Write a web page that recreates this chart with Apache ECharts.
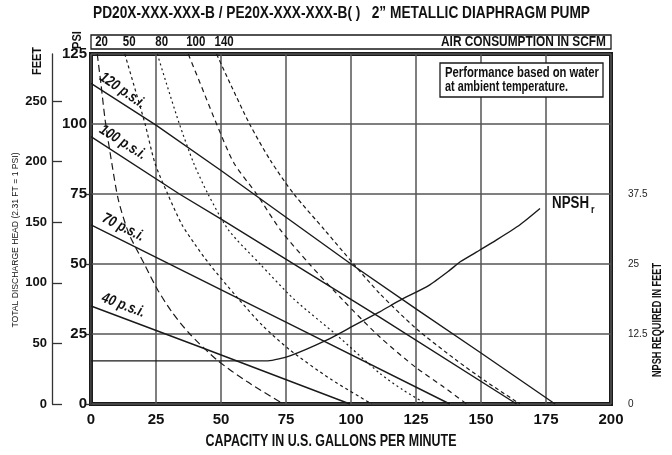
<!DOCTYPE html>
<html>
<head>
<meta charset="UTF-8">
<title>2" Metallic Diaphragm Pump</title>
<script src="https://cdn.jsdelivr.net/npm/echarts@6/dist/echarts.min.js"></script>
<style>
  body{margin:0;background:#fff}
</style>
</head>
<body>
<div id="main" style="width:672px;height:455px"></div>
<script>
var FONT = '"Liberation Sans", Arial, sans-serif';
var INK = '#1a1a1a';

// discharge head (psi) vs capacity (gpm), one line per air inlet pressure
var pressureNames = ['120 p.s.i.', '100 p.s.i.', '70 p.s.i.', '40 p.s.i.'];
var head120 = [[0,114.5],[25,99.6],[50,83.4],[75,66.7],[100,50],[125,34],[150,18.2],[178.5,0]];
var head100 = [[0,95.5],[34,75],[51,65.5],[111,31],[163.7,0]];
var head70  = [[0,64],[76.5,28.5],[138,0]];
var head40  = [[0,35],[43,20],[99.6,0]];

// air consumption curves (scfm)
var scfmNames = ['20', '50', '80', '100', '140'];
var air20  = [[2.4,125],[3.8,114.5],[5.5,101],[8,86],[10.5,73],[14.5,61],[20.5,50],[25.5,41],[31,33],[38,25],[48.5,15.7],[60,8],[74,0]];
var air50  = [[13,125],[16.3,114.5],[20.8,100],[24.6,86],[29.5,75],[35,64],[40,57],[45.5,50],[56,38.3],[66,28],[76.5,19.3],[92,9],[108,0]];
var air80  = [[25.5,125],[29,114.5],[34,100],[39.5,86],[45,75],[53,62],[65,50],[78,37.5],[94.5,24.6],[111,11],[120,5],[129,0]];
var air100 = [[37.4,125],[42,114.5],[48.3,100],[55,86],[63.7,75],[73,62],[84,50],[97,37],[111,24],[125,13],[135,6.5],[144.5,0]];
var air140 = [[48.3,125],[53.5,114.5],[61,100],[69,87],[78,75],[90,62],[101,50],[111,39.5],[125,27],[140,16],[152,8],[165,0]];

// NPSH required (feet) vs capacity (gpm)
var npshReq = [[0,7.7],[68,7.7],[76.5,8.6],[90.6,11.4],[100.3,13.8],[111.2,16.5],[118.8,18.5],[130,21.2],[138,23.9],[142,25.4],[149.6,27.5],[156,29.3],[165,32],[172.7,34.9]];

var heads = [head120, head100, head70, head40];
var airs = [air20, air50, air80, air100, air140];
var dashes = [[7,4], [3,3], [2,3], [5,4], [4,3]];

var series = [];
heads.forEach(function (d, i) {
  series.push({
    name: pressureNames[i], type: 'line', data: d, symbol: 'none',
    xAxisIndex: 0, yAxisIndex: 0, z: 4,
    lineStyle: {color: INK, width: 1.4}
  });
});
airs.forEach(function (d, i) {
  series.push({
    name: scfmNames[i] + ' SCFM', type: 'line', data: d, symbol: 'none', smooth: 0.25,
    xAxisIndex: 0, yAxisIndex: 0, z: 3,
    lineStyle: {color: INK, width: 1.2, type: dashes[i]}
  });
});
series.push({
  name: 'NPSHr', type: 'line', data: npshReq, symbol: 'none', smooth: 0.2,
  xAxisIndex: 1, yAxisIndex: 2, z: 4,
  lineStyle: {color: INK, width: 1.4}
});

var option = {
  animation: false,
  grid: [
    {left: 91, right: 61, top: 54, bottom: 51, show: true, borderColor: INK, borderWidth: 4},
    {left: 91, right: 61, top: 194, bottom: 51, show: false}
  ],
  xAxis: [
    {
      type: 'value', gridIndex: 0, min: 0, max: 200, interval: 25,
      axisLine: {show: false}, axisTick: {show: false},
      axisLabel: {fontFamily: FONT, fontSize: 15, fontWeight: 'bold', color: '#111', margin: 8},
      splitLine: {lineStyle: {color: '#555', width: 1.5}}
    },
    {type: 'value', gridIndex: 1, min: 0, max: 200, show: false}
  ],
  yAxis: [
    {
      type: 'value', gridIndex: 0, min: 0, max: 125, interval: 25,
      axisLine: {show: false}, axisTick: {show: false},
      axisLabel: {fontFamily: FONT, fontSize: 15, fontWeight: 'bold', color: '#111', margin: 4},
      splitLine: {lineStyle: {color: '#555', width: 1.5}}
    },
    {
      type: 'value', gridIndex: 0, position: 'left', offset: 39,
      min: 0, max: 125 * 2.31, interval: 50,
      axisLine: {show: true, lineStyle: {color: '#333', width: 1.3}},
      axisTick: {show: true, inside: true, length: 10, lineStyle: {color: '#333', width: 1.3}},
      axisLabel: {fontFamily: FONT, fontSize: 13, fontWeight: 'bold', color: '#111', margin: 5, showMaxLabel: false},
      splitLine: {show: false}
    },
    {
      type: 'value', gridIndex: 1, position: 'right', offset: 13,
      min: 0, max: 37.5, interval: 12.5,
      axisLine: {show: true, lineStyle: {color: '#333', width: 1.3}},
      axisTick: {show: true, inside: true, length: 6, lineStyle: {color: '#333', width: 1.3}},
      axisLabel: {fontFamily: FONT, fontSize: 10, color: '#222', margin: 4},
      splitLine: {show: false}
    }
  ],
  series: series
};

var chart = echarts.init(document.getElementById('main'));
chart.setOption(option);

var ctx = document.createElement('canvas').getContext('2d');
function squeeze(text, font, width) {
  ctx.font = font;
  return width / ctx.measureText(text).width;
}
function toPx(pt) { return chart.convertToPixel({seriesIndex: 0}, pt); }
function txt(x, y, text, font, extra) {
  extra = extra || {};
  var o = {type: 'text', x: x, y: y, z: 10,
    rotation: extra.rotation || 0,
    scaleX: extra.width ? squeeze(text, font, extra.width) : (extra.sx || 0.82),
    style: {text: text, font: font, fill: '#111', align: extra.align || 'left', verticalAlign: 'middle'}};
  return o;
}

var g = [];
var pLeft = toPx([0, 0]), pRight = toPx([200, 125]);
var UP = -Math.PI / 2 * -1;

// title
g.push(txt(93, 13, 'PD20X-XXX-XXX-B / PE20X-XXX-XXX-B( )   2\u201D METALLIC DIAPHRAGM PUMP', 'bold 17px ' + FONT, {width: 497}));

// air consumption strip
g.push({type: 'rect', z: 10, shape: {x: pLeft[0], y: 35, width: pRight[0] - pLeft[0], height: 14},
  style: {fill: 'none', stroke: INK, lineWidth: 1.3}});
g.push(txt(pRight[0] - 5, 42, 'AIR CONSUMPTION IN SCFM', 'bold 14px ' + FONT, {align: 'right', width: 165}));
airs.forEach(function (d, i) {
  var p = toPx(d[0]);
  g.push(txt(p[0] - 2, 42, scfmNames[i], 'bold 14px ' + FONT));
});

// axis names
g.push(txt(77, 40, 'PSI', 'bold 13px ' + FONT, {rotation: UP, align: 'center', sx: 0.85}));
g.push(txt(37, 61, 'FEET', 'bold 13px ' + FONT, {rotation: UP, align: 'center', sx: 0.85}));
g.push(txt(16, 240, 'TOTAL DISCHARGE HEAD (2.31 FT = 1 PSI)', '9px ' + FONT, {rotation: UP, align: 'center', width: 175}));
g.push(txt(658, 320, 'NPSH REQUIRED IN FEET', 'bold 12px ' + FONT, {rotation: UP, align: 'center', width: 114}));
g.push(txt(331, 441, 'CAPACITY IN U.S. GALLONS PER MINUTE', 'bold 17px ' + FONT, {align: 'center', width: 251}));

// pressure labels along each line
heads.forEach(function (d, i) {
  var a = toPx(d[0]), b = toPx(d[d.length - 1]);
  var ang = Math.atan2(b[1] - a[1], b[0] - a[0]);
  var t = 30 / Math.hypot(b[0] - a[0], b[1] - a[1]);
  var cx = a[0] + (b[0] - a[0]) * t + Math.sin(ang) * 12;
  var cy = a[1] + (b[1] - a[1]) * t - Math.cos(ang) * 12;
  g.push(txt(cx, cy, pressureNames[i], 'italic bold 15px ' + FONT, {rotation: -ang, align: 'center'}));
});

// NPSHr label at end of curve
var nEnd = chart.convertToPixel({seriesIndex: series.length - 1}, npshReq[npshReq.length - 1]);
g.push(txt(nEnd[0] + 12, nEnd[1] - 5, 'NPSH', 'bold 16px ' + FONT, {width: 37}));
g.push(txt(nEnd[0] + 51, nEnd[1] + 1, 'r', 'bold 11px ' + FONT));

// note box
g.push({type: 'rect', z: 10, shape: {x: 440, y: 63, width: 163, height: 34},
  style: {fill: '#fff', stroke: INK, lineWidth: 1.3}});
g.push(txt(445, 73, 'Performance based on water', 'bold 14px ' + FONT, {width: 154}));
g.push(txt(445, 87, 'at ambient temperature.', 'bold 14px ' + FONT, {width: 123}));

chart.setOption({graphic: g});
</script>
</body>
</html>
